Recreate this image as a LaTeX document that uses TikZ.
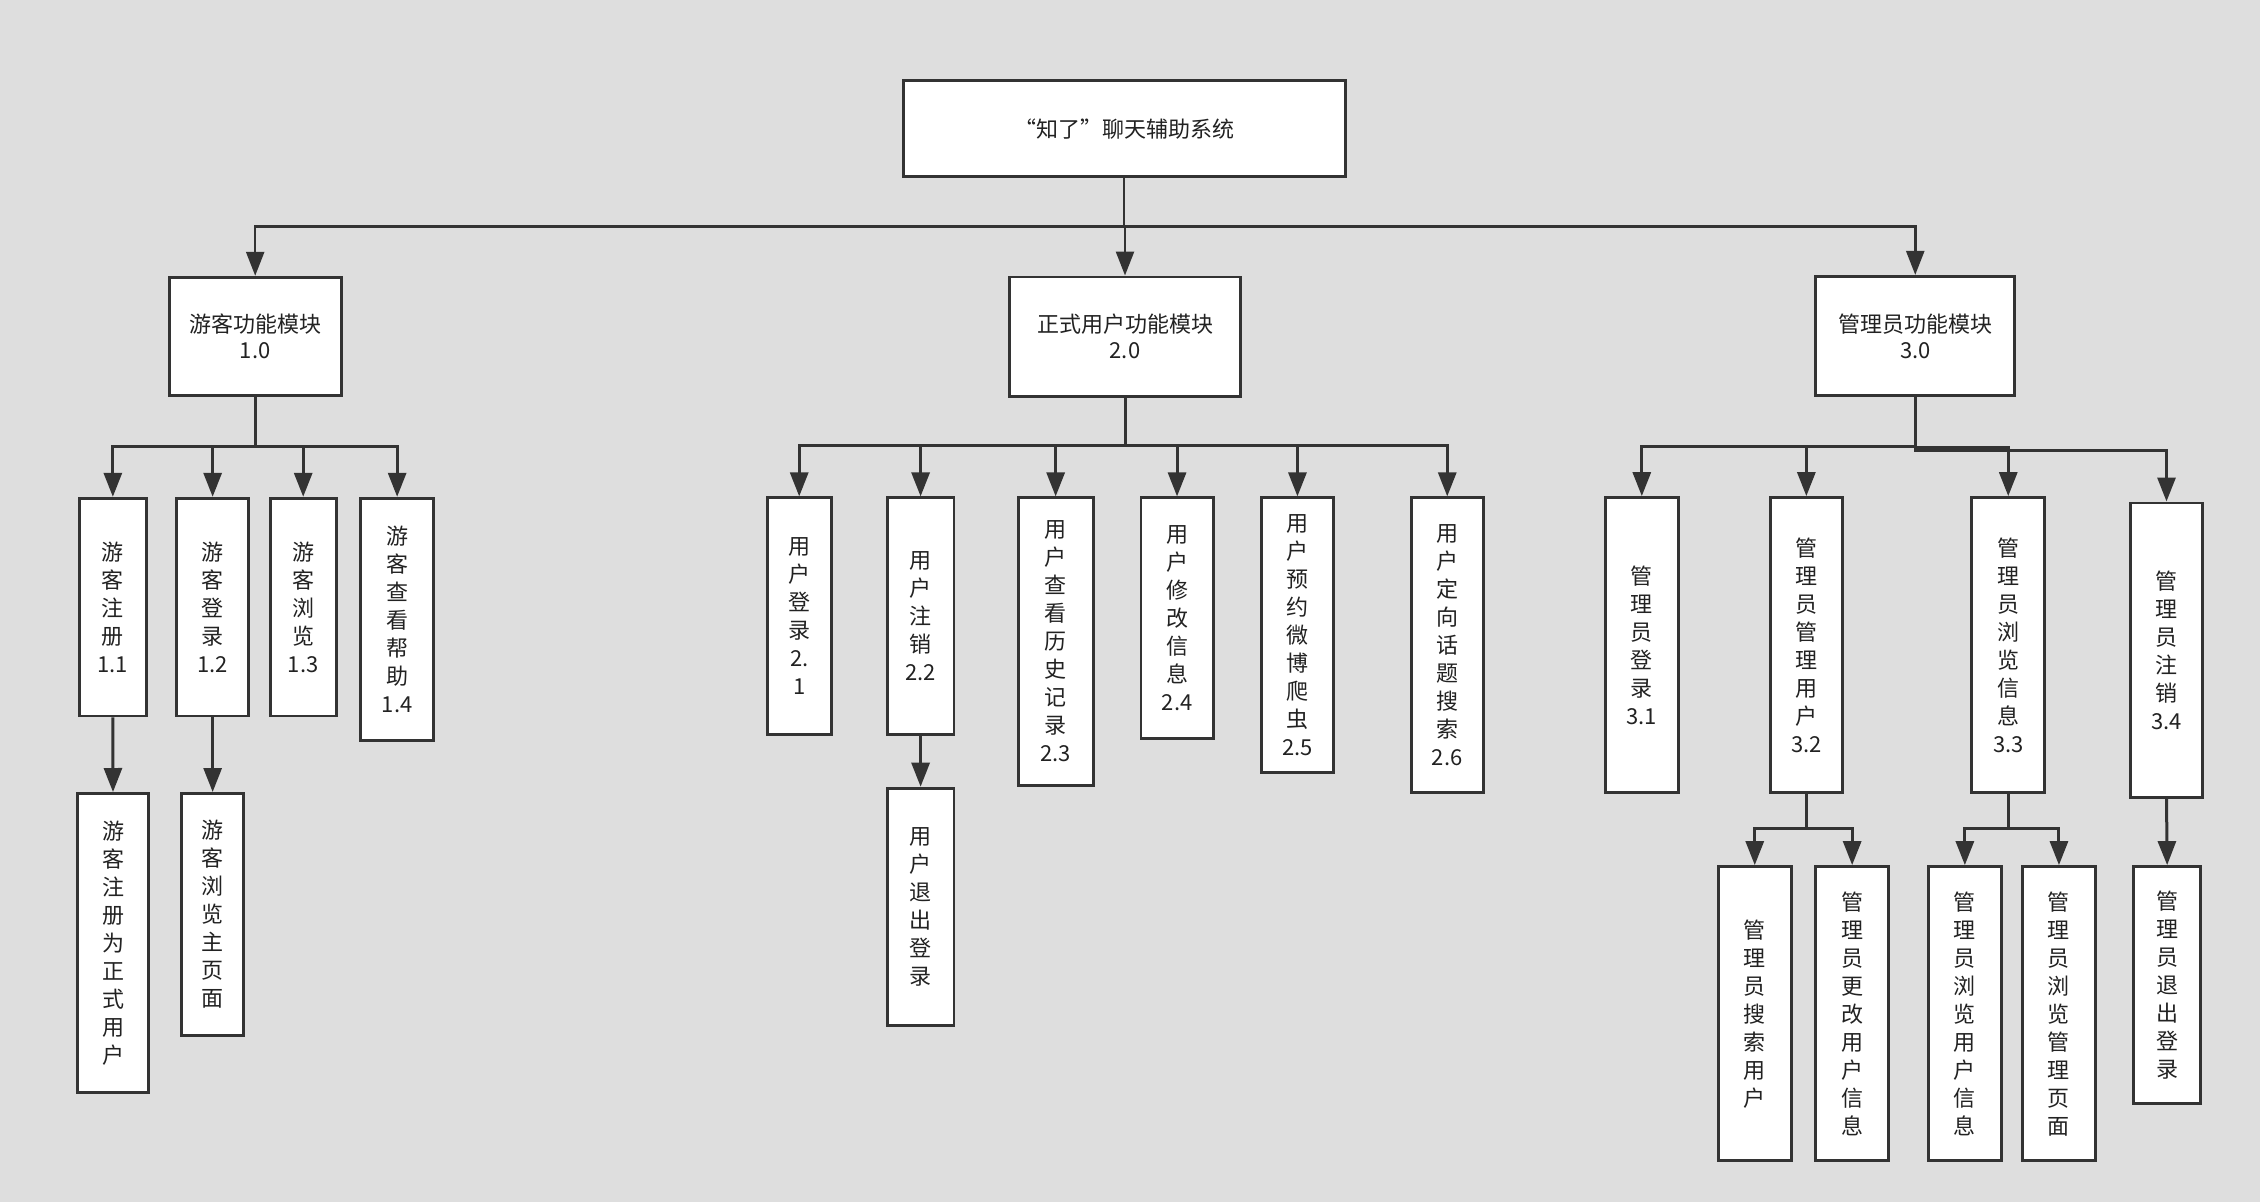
\documentclass[tikz,border=0pt]{standalone}
\usepackage{fontspec}
\newfontfamily\cjk{Noto Sans CJK SC}
\usetikzlibrary{arrows.meta}
\definecolor{bg}{HTML}{DEDEDE}
\definecolor{ln}{HTML}{333333}
\definecolor{tx}{HTML}{222222}
\tikzset{
 box/.style={draw=ln, line width=2.9pt, fill=white, inner sep=0pt, align=center, text=tx, font=\cjk\fontsize{22}{28}\selectfont},
 hbox/.style={box, font=\cjk\fontsize{22}{26}\selectfont},
 conn/.style={draw=ln, line width=3pt, -{Triangle[length=24pt,width=18pt]}},
}
\newcommand\bx[7][box]{\node[#1, minimum width={#5-#3-2.9}, minimum height={#6-#4-2.9}] (#2) at ({(#3+#5)/2},{(#4+#6)/2}) {#7};}
\begin{document}
\begin{tikzpicture}[x=1pt,y=-1pt]
\fill[bg] (0,0) rectangle (2260,1202);
\useasboundingbox (0,0) rectangle (2260,1202);
% top
\bx[hbox]{root}{901.7}{79}{1346.7}{178.3}{“知了”聊天辅助系统}
\bx[hbox]{g1}{167.7}{275.8}{342.7}{397}{游客功能模块\\1.0}
\bx[hbox]{g2}{1007.7}{275.5}{1242.3}{398}{正式用户功能模块\\2.0}
\bx[hbox]{g3}{1814.2}{274.9}{2016.3}{397.1}{管理员功能模块\\3.0}
% group 1
\bx{c11}{77.7}{496.8}{148}{717.4}{游\\客\\注\\册\\1.1}
\bx{c12}{175}{496.8}{250.3}{717.4}{游\\客\\登\\录\\1.2}
\bx{c13}{268.7}{496.8}{337.7}{717.4}{游\\客\\浏\\览\\1.3}
\bx{c14}{359.3}{496.8}{435}{741.5}{游\\客\\查\\看\\帮\\助\\1.4}
\bx{d11}{76}{792}{150}{1093.6}{游\\客\\注\\册\\为\\正\\式\\用\\户}
\bx{d12}{180}{792}{245.3}{1037.2}{游\\客\\浏\\览\\主\\页\\面}
% group 2
\bx{c21}{765.9}{496.4}{832.5}{736.2}{用\\户\\登\\录\\2.\\1}
\bx{c22}{885.8}{496.4}{955.4}{736.2}{用\\户\\注\\销\\2.2}
\bx{c23}{1016.6}{496.4}{1094.7}{786.7}{用\\户\\查\\看\\历\\史\\记\\录\\2.3}
\bx{c24}{1139.5}{496.4}{1214.6}{739.8}{用\\户\\修\\改\\信\\息\\2.4}
\bx{c25}{1259.9}{496.4}{1335}{774}{用\\户\\预\\约\\微\\博\\爬\\虫\\2.5}
\bx{c26}{1409.7}{496.4}{1484.8}{793.9}{用\\户\\定\\向\\话\\题\\搜\\索\\2.6}
\bx{d22}{885.8}{786.7}{955.4}{1026.5}{用\\户\\退\\出\\登\\录}
% group 3
\bx{c31}{1603.9}{496.1}{1679.7}{793.9}{管\\理\\员\\登\\录\\3.1}
\bx{c32}{1768.6}{496.1}{1844.1}{793.9}{管\\理\\员\\管\\理\\用\\户\\3.2}
\bx{c33}{1970.3}{496.1}{2046.2}{793.9}{管\\理\\员\\浏\\览\\信\\息\\3.3}
\bx{c34}{2129}{501.5}{2204}{799.2}{管\\理\\员\\注\\销\\3.4}
\bx{d32a}{1717}{865.1}{1792.5}{1162.2}{管\\理\\员\\搜\\索\\用\\户}
\bx{d32b}{1814.2}{865.1}{1890.1}{1162.2}{管\\理\\员\\更\\改\\用\\户\\信\\息}
\bx{d33a}{1926.9}{865.1}{2002.8}{1162.2}{管\\理\\员\\浏\\览\\用\\户\\信\\息}
\bx{d33b}{2021}{865.1}{2096.9}{1162.2}{管\\理\\员\\浏\\览\\管\\理\\页\\面}
\bx{d34}{2132}{865.1}{2202.3}{1105.3}{管\\理\\员\\退\\出\\登\\录}
% bus coordinates
\coordinate (b0) at (0,226.7);
\coordinate (b1) at (0,446.4);
\coordinate (b2) at (0,445.4);
\coordinate (b3a) at (0,446);
\coordinate (b3b) at (0,447.5);
\coordinate (b3c) at (0,450);
\coordinate (b32) at (0,828.3);
% connectors
\foreach \c in {g1,g2,g3} \draw[conn, line width=2.5pt] (root.south) -- (root.south |- b0) -| (\c.north);
\foreach \c in {c11,c12,c13,c14} \draw[conn] (g1.south) -- (g1.south |- b1) -| (\c.north);
\draw[conn] (c11.south) -- (d11.north);
\draw[conn] (c12.south) -- (d12.north);
\foreach \c in {c21,c22,c23,c24,c25,c26} \draw[conn] (g2.south) -- (g2.south |- b2) -| (\c.north);
\draw[conn] (c22.south) -- (d22.north);
\foreach \c in {c31,c32} \draw[conn] (g3.south) -- (g3.south |- b3a) -| (\c.north);
\draw[conn] (g3.south) -- (g3.south |- b3b) -| (c33.north);
\draw[conn] (g3.south) -- (g3.south |- b3c) -| (c34.north);
\foreach \c in {d32a,d32b} \draw[conn] (c32.south) -- (c32.south |- b32) -| (\c.north);
\foreach \c in {d33a,d33b} \draw[conn] (c33.south) -- (c33.south |- b32) -| (\c.north);
\draw[conn] (c34.south) -- (d34.north);
\end{tikzpicture}
\end{document}
